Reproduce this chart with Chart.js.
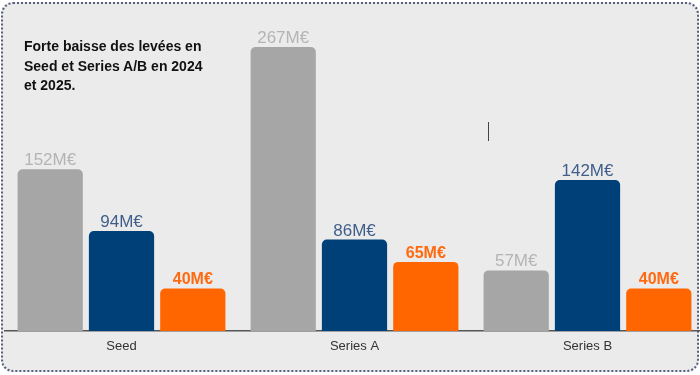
<!DOCTYPE html>
<html lang="fr">
<head>
<meta charset="utf-8">
<title>Levées par stade</title>
<script src="https://cdn.jsdelivr.net/npm/chart.js@4.4.0/dist/chart.umd.min.js"></script>
<style>
    html, body { margin: 0; padding: 0; background: #fff; overflow: hidden; }
    #wrap { position: relative; width: 700px; height: 375px; overflow: hidden; }
    #cadre {
        position: absolute; left: 1px; top: 2px; width: 694px; height: 366px;
        border: 2px dotted #58607e; border-radius: 12px; background: #ebebeb;
    }
    #zone-graph { position: absolute; left: 0; top: 0; width: 704px; height: 375px; }
    #titre {
        position: absolute; left: 24px; top: 37px;
        font: bold 14px "Liberation Sans", Arial, sans-serif; line-height: 19.5px; color: #111;
    }
    #curseur { position: absolute; left: 488px; top: 122px; width: 1px; height: 19px; background: #444; }
</style>
</head>
<body>
<div id="wrap">
    <div id="cadre"></div>
    <div id="zone-graph"><canvas id="graph-levees"></canvas></div>
    <div id="titre">Forte baisse des levées en<br>Seed et Series A/B en 2024<br>et 2025.</div>
    <div id="curseur"></div>
</div>

<script>
// ========================================
// Données (M€)
// ========================================
const categories = ['Seed', 'Series A', 'Series B'];
const annees = ['2023', '2024', '2025'];
const levees2023 = [152, 267, 57];
const levees2024 = [94, 86, 142];
const levees2025 = [40, 65, 40];

const couleursBarres = ['#a6a6a6', '#004079', '#ff6600'];
const couleursValeurs = ['#b4b4b4', '#3f5f8a', '#ff6a10'];
const policesValeurs = ['17px', '17px', 'bold 16px'];

// Étiquettes "xxxM€" au-dessus de chaque barre
const pluginValeurs = {
    id: 'valeurs',
    afterDatasetsDraw(chart) {
        const ctx = chart.ctx;
        chart.data.datasets.forEach((ds, i) => {
            const meta = chart.getDatasetMeta(i);
            ctx.save();
            ctx.font = policesValeurs[i] + ' "Liberation Sans", Arial, sans-serif';
            ctx.fillStyle = couleursValeurs[i];
            ctx.textAlign = 'center';
            ctx.textBaseline = 'alphabetic';
            meta.data.forEach((barre, j) => {
                ctx.fillText(ds.data[j] + 'M€', barre.x, barre.y - 4);
            });
            ctx.restore();
        });
    }
};

const series = [levees2023, levees2024, levees2025];

new Chart(document.getElementById('graph-levees'), {
    type: 'bar',
    data: {
        labels: categories,
        datasets: series.map((valeurs, i) => ({
            label: annees[i],
            data: valeurs,
            backgroundColor: couleursBarres[i],
            borderRadius: 5,
            borderSkipped: 'bottom',
            categoryPercentage: 0.918,
            barPercentage: 0.915
        }))
    },
    options: {
        responsive: true,
        maintainAspectRatio: false,
        animation: false,
        devicePixelRatio: 1,
        layout: { padding: { left: 5, right: 0, top: 12, bottom: 0 } },
        plugins: { legend: { display: false }, tooltip: { enabled: false } },
        scales: {
            x: {
                grid: { display: false, drawTicks: false },
                border: { display: true, color: '#555', width: 1.5 },
                ticks: { color: '#333', padding: 8, font: { family: '"Liberation Sans", Arial, sans-serif', size: 13 } },
                afterFit(scale) { scale.height = 44; }
            },
            y: { display: false, min: 0, max: 300 }
        }
    },
    plugins: [pluginValeurs]
});
</script>
</body>
</html>
